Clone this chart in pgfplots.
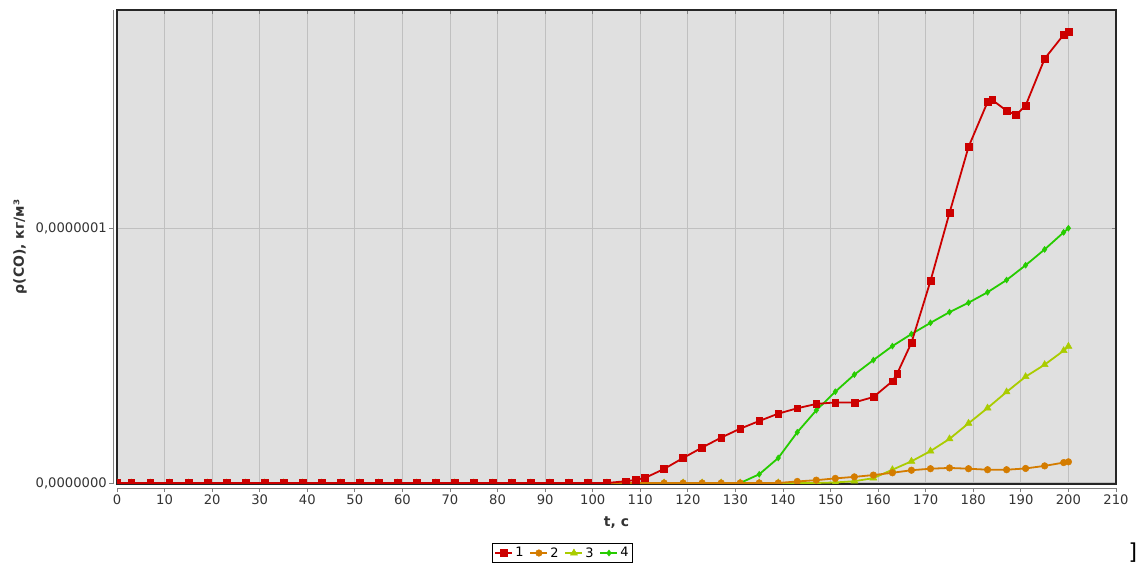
\documentclass[border=0pt]{standalone}
\usepackage{fontspec}
\setmainfont{DejaVu Sans}
\usepackage{pgfplots}
\usepackage{pgfplotstable}
\pgfplotsset{compat=1.18}
\definecolor{cRed}{RGB}{204,0,0}
\definecolor{cOrange}{RGB}{212,124,0}
\definecolor{cYellow}{RGB}{170,204,0}
\definecolor{cGreen}{RGB}{38,204,0}
\definecolor{bgGray}{RGB}{224,224,224}
\definecolor{gridGray}{RGB}{192,192,192}

% y values in units of 1e-7 kg/m^3
\pgfplotstableread{
t v
0 0
3 0
7 0
11 0
15 0
19 0
23 0
27 0
31 0
35 0
39 0
43 0
47 0
51 0
55 0
59 0
63 0
67 0
71 0
75 0
79 0
83 0
87 0
91 0
95 0
99 0
103 0
107 0.007
109 0.012
111 0.020
115 0.055
119 0.098
123 0.139
127 0.178
131 0.213
135 0.243
139 0.272
143 0.293
147 0.310
151 0.316
155 0.316
159 0.337
163 0.399
164 0.429
167 0.550
171 0.792
175 1.059
179 1.318
183 1.494
184 1.502
187 1.460
189 1.443
191 1.480
195 1.664
199 1.758
200 1.769
}\serA

\pgfplotstableread{
t v
0 0
3 0
7 0
11 0
15 0
19 0
23 0
27 0
31 0
35 0
39 0
43 0
47 0
51 0
55 0
59 0
63 0
67 0
71 0
75 0
79 0
83 0
87 0
91 0
95 0
99 0
103 0
107 0
111 0
115 0
119 0
123 0
127 0
131 0
135 0
139 0
143 0.006
147 0.011
151 0.018
155 0.024
159 0.031
163 0.040
167 0.050
171 0.056
175 0.059
179 0.056
183 0.052
187 0.052
191 0.057
195 0.067
199 0.080
200 0.083
}\serB

\pgfplotstableread{
t v
0 0
3 0
7 0
11 0
15 0
19 0
23 0
27 0
31 0
35 0
39 0
43 0
47 0
51 0
55 0
59 0
63 0
67 0
71 0
75 0
79 0
83 0
87 0
91 0
95 0
99 0
103 0
107 0
111 0
115 0
119 0
123 0
127 0
131 0
135 0
139 0
143 0
147 0
151 0.002
155 0.007
159 0.019
163 0.052
167 0.085
171 0.125
175 0.173
179 0.234
183 0.294
187 0.357
191 0.417
195 0.464
199 0.519
200 0.536
}\serC

\pgfplotstableread{
t v
0 0
3 0
7 0
11 0
15 0
19 0
23 0
27 0
31 0
35 0
39 0
43 0
47 0
51 0
55 0
59 0
63 0
67 0
71 0
75 0
79 0
83 0
87 0
91 0
95 0
99 0
103 0
107 0
111 0
115 0
119 0
123 0
127 0
131 0
135 0.034
139 0.098
143 0.199
147 0.285
151 0.358
155 0.425
159 0.482
163 0.537
167 0.584
171 0.628
175 0.670
179 0.707
183 0.748
187 0.796
191 0.854
195 0.916
199 0.983
200 0.999
}\serD

\begin{document}
\begin{tikzpicture}
\path[use as bounding box] (0,0) rectangle (1137bp,567bp);
\begin{axis}[
  name=ax,
  at={(117bp,83bp)}, anchor=south west,
  scale only axis, width=999bp, height=474bp,
  xmin=0, xmax=210, ymin=-0.004, ymax=1.855,
  axis background/.style={fill=bgGray},
  axis line style={draw=black!85, line width=1.2bp},
  xtick={0,10,...,210},
  ytick={0,1},
  yticklabels={{0,0000000},{0,0000001}},
  grid=major,
  major grid style={draw=gridGray, line width=1bp},
  tick align=outside,
  major tick length=4bp,
  xtick style={draw=gray, line width=0.8bp, yshift=-4bp},
  ytick style={draw=gray, line width=0.8bp, xshift=-4bp},
  /pgf/number format/assume math mode=true,
  tick label style={font=\fontsize{13.2}{15}\selectfont, text=black!80},
  xticklabel style={anchor=center, inner sep=0pt, yshift=-12bp},
  yticklabel style={anchor=east, inner sep=0pt, xshift=-6bp},
  xlabel={t, с},
  ylabel={ρ(CO), кг/м³},
  xlabel style={font=\fontsize{14}{16}\selectfont\bfseries, text=black!80, at={(axis description cs:0.5,0)}, anchor=center, yshift=-39bp},
  ylabel style={font=\fontsize{14}{16}\selectfont\bfseries, text=black!80, at={(axis description cs:-0.0971,0.5)}, anchor=center},
  clip marker paths=true,
  reverse legend,
  legend columns=4,
  legend style={at={(axis description cs:0.446,-0.1456)}, anchor=center,
    draw=black, line width=0.8bp, fill=white, font=\fontsize{13}{15}\selectfont,
    inner sep=2bp, /tikz/every even column/.append style={column sep=4bp}},
  legend cell align=left,
]
\addplot[color=cGreen, line width=1.8bp, mark=diamond*, mark size=3bp, mark options={line width=0.5bp}] table[x=t,y=v] {\serD};
\addlegendentry{4}
\addplot[color=cYellow, line width=1.8bp, mark=triangle*, mark size=4bp, mark options={line width=0.5bp}] table[x=t,y=v] {\serC};
\addlegendentry{3}
\addplot[color=cOrange, line width=1.8bp, mark=*, mark size=3.3bp, mark options={line width=0.5bp}] table[x=t,y=v] {\serB};
\addlegendentry{2}
\addplot[color=cRed, line width=1.8bp, mark=square*, mark size=3.4bp, mark options={line width=0.5bp}] table[x=t,y=v] {\serA};
\addlegendentry{1}
\end{axis}
\draw[gray, line width=0.8bp] ([yshift=-4bp]ax.south west) -- ([yshift=-4bp]ax.south east);
\draw[gray, line width=0.8bp] ([xshift=-4bp]ax.south west) -- ([xshift=-4bp]ax.north west);
\node[anchor=center, font=\fontsize{22}{24}\selectfont] at (1133bp,14bp) {]};
\end{tikzpicture}
\end{document}
